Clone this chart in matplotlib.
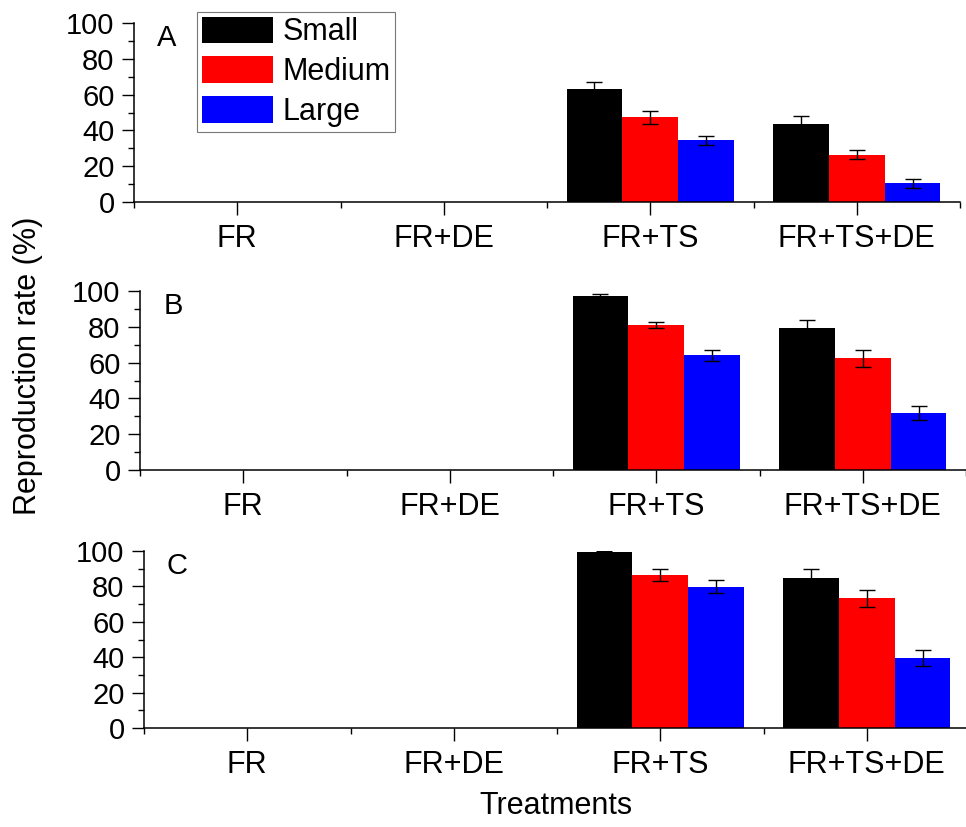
import numpy as np
import matplotlib
matplotlib.use("Agg")
import matplotlib.pyplot as plt
from matplotlib.ticker import MultipleLocator, FixedLocator

plt.rcParams['font.family'] = ['Liberation Sans', 'DejaVu Sans']

treatments = ["FR", "FR+DE", "FR+TS", "FR+TS+DE"]
sizes = ["Small", "Medium", "Large"]
colors = ["#000000", "#ff0000", "#0000ff"]

# reproduction rate (%) per size class, one row per treatment
rate_A = {"Small": [0, 0, 63.3, 43.7], "Medium": [0, 0, 47.4, 26.5], "Large": [0, 0, 34.4, 10.4]}
err_A = {"Small": [0, 0, 3.7, 4.1], "Medium": [0, 0, 3.6, 2.4], "Large": [0, 0, 2.3, 2.7]}
rate_B = {"Small": [0, 0, 97.0, 79.6], "Medium": [0, 0, 81.0, 62.3], "Large": [0, 0, 64.0, 32.0]}
err_B = {"Small": [0, 0, 1.5, 4.1], "Medium": [0, 0, 1.9, 4.6], "Large": [0, 0, 3.3, 3.9]}
rate_C = {"Small": [0, 0, 99.5, 85.0], "Medium": [0, 0, 86.3, 73.2], "Large": [0, 0, 79.8, 39.5]}
err_C = {"Small": [0, 0, 0.5, 4.7], "Medium": [0, 0, 3.4, 4.7], "Large": [0, 0, 3.7, 4.7]}

panels = [("A", rate_A, err_A), ("B", rate_B, err_B), ("C", rate_C, err_C)]

W, H = 966, 827
fig = plt.figure(figsize=(W / 100, H / 100), dpi=100)

# axes boxes in pixels: left, right, top, bottom
boxes = [(134, 960, 23, 202), (140, 966, 291, 470), (144, 970, 551, 728)]

x = np.arange(1, len(treatments) + 1)
bw = 0.27
axes = []
for (letter, rate, err), (l, r, t, b) in zip(panels, boxes):
    ax = fig.add_axes([l / W, 1 - b / H, (r - l) / W, (b - t) / H])
    axes.append(ax)
    for i, s in enumerate(sizes):
        xs = x + (i - 1) * bw
        vals = np.array(rate[s], dtype=float)
        ers = np.array(err[s], dtype=float)
        ax.bar(xs, vals, bw, color=colors[i], label=s, zorder=2)
        m = vals > 0
        ax.errorbar(xs[m], vals[m], yerr=ers[m], fmt='none', ecolor='black',
                    elinewidth=1.0, capsize=5.5, capthick=1.0, zorder=3)
    ax.set_xlim(0.5, 4.5)
    ax.set_ylim(0, 100)
    ax.yaxis.set_major_locator(MultipleLocator(20))
    ax.yaxis.set_minor_locator(MultipleLocator(10))
    ax.xaxis.set_major_locator(FixedLocator(x))
    ax.xaxis.set_minor_locator(FixedLocator([0.5, 1.5, 2.5, 3.5, 4.5]))
    ax.set_xticklabels(treatments, fontsize=22)
    ax.tick_params(axis='y', labelsize=21)
    ax.tick_params(which='major', direction='out', length=9, width=1.0, pad=5)
    ax.tick_params(which='minor', direction='out', length=4, width=1.0)
    ax.tick_params(axis='x', which='major', pad=7)
    for sp in ['top', 'right']:
        ax.spines[sp].set_visible(False)
    for sp in ['left', 'bottom']:
        ax.spines[sp].set_linewidth(1.1)
    ax.spines['bottom'].set_clip_on(False)
    ax.text(0.66, 91.5, letter, fontsize=21, ha='center', va='center')

leg = axes[0].legend(loc='upper left', bbox_to_anchor=(197 / W, 1 - 12 / H),
                     bbox_transform=fig.transFigure, fontsize=22, frameon=True,
                     fancybox=False, edgecolor='#777777', framealpha=1,
                     handlelength=2.35, handleheight=0.95, labelspacing=0.3,
                     handletextpad=0.3, borderpad=0.15, borderaxespad=0)
leg.get_frame().set_linewidth(0.8)

fig.text(28 / W, 1 - 366 / H, "Reproduction rate (%)", rotation=90,
         fontsize=22, ha='center', va='center')
fig.text(556 / W, 1 - 806 / H, "Treatments", fontsize=22, ha='center', va='center')

fig.savefig("out.png", dpi=100)
